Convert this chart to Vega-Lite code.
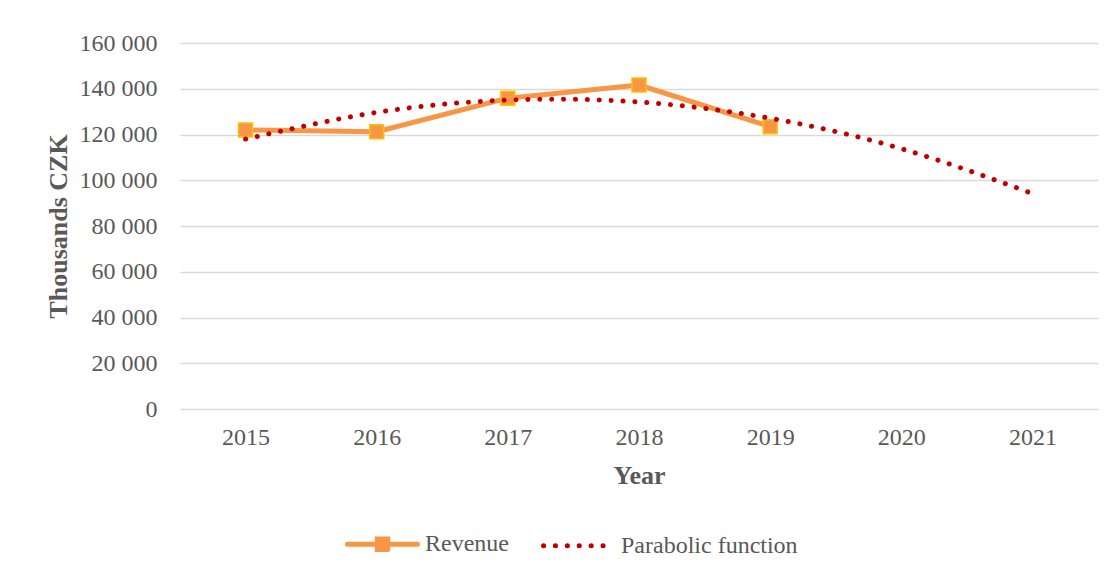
{
  "$schema": "https://vega.github.io/schema/vega-lite/v6.json",
  "width": 918,
  "height": 366,
  "autosize": {"type": "none"},
  "padding": {"left": 180, "top": 43, "right": 14, "bottom": 162},
  "background": "white",
  "config": {
    "font": "Liberation Serif",
    "view": {"stroke": null},
    "axis": {"labelFont": "Liberation Serif", "labelFontSize": 24, "labelColor": "#595959", "titleFont": "Liberation Serif", "titleFontSize": 26, "titleFontWeight": "bold", "titleColor": "#595959"}
  },
  "data": {
    "values": [
      {"year": "2015", "series": "Revenue", "value": 121970},
      {"year": "2016", "series": "Revenue", "value": 121210},
      {"year": "2017", "series": "Revenue", "value": 135870},
      {"year": "2018", "series": "Revenue", "value": 141640},
      {"year": "2019", "series": "Revenue", "value": 123410},
      {"year": "2015", "series": "Parabolic function", "value": 118000},
      {"year": "2016", "series": "Parabolic function", "value": 129650},
      {"year": "2017", "series": "Parabolic function", "value": 135050},
      {"year": "2018", "series": "Parabolic function", "value": 134200},
      {"year": "2019", "series": "Parabolic function", "value": 127100},
      {"year": "2020", "series": "Parabolic function", "value": 113780},
      {"year": "2021", "series": "Parabolic function", "value": 94200}
    ]
  },
  "encoding": {
    "x": {
      "field": "year", "type": "ordinal",
      "scale": {"type": "point", "padding": 0.5, "domain": ["2015","2016","2017","2018","2019","2020","2021"]},
      "axis": {"title": "Year", "labelAngle": 0, "domain": false, "ticks": false, "grid": false, "labelPadding": 16, "titleY": 66, "titleBaseline": "middle"}
    },
    "y": {
      "field": "value", "type": "quantitative",
      "scale": {"domain": [0, 160000]},
      "axis": {
        "title": "Thousands CZK", "values": [0,20000,40000,60000,80000,100000,120000,140000,160000],
        "labelExpr": "datum.value >= 1000 ? format(floor(datum.value/1000),'d') + ' 000' : '0'",
        "domain": false, "ticks": false, "grid": true, "gridColor": "#D9D9D9", "gridWidth": 1.5,
        "labelPadding": 23, "titleX": -122, "titleY": 183, "titleAngle": -90, "titleBaseline": "middle", "titleAlign": "center"
      }
    }
  },
  "layer": [
    {
      "transform": [{"filter": "datum.series === 'Revenue'"}],
      "mark": {"type": "line", "strokeWidth": 5, "strokeCap": "round", "strokeJoin": "round"},
      "encoding": {
        "color": {
          "field": "series", "type": "nominal",
          "scale": {"domain": ["Revenue", "Parabolic function"], "range": ["#F79646", "#C00000"]},
          "legend": {
            "orient": "none", "legendX": 165, "legendY": 463.5, "direction": "horizontal", "title": null,
            "symbolSize": 4900, "symbolType": "M-1,0H1",
            "labelFont": "Liberation Serif", "labelFontSize": 24, "labelColor": "#595959", "labelOffset": 5, "labelLimit": 400, "columnPadding": 24,
            "encode": {
              "symbols": {
                "update": {
                  "shape": {"signal": "datum.value === 'Revenue' ? 'M-1,0H-0.15M0.15,0H1M-0.15,-0.15H0.15V0.15H-0.15Z' : 'M-1,0H1'"},
                  "fill": {"signal": "datum.value === 'Revenue' ? '#F79646' : 'transparent'"},
                  "stroke": {"signal": "datum.value === 'Revenue' ? '#F79646' : '#C00000'"},
                  "strokeWidth": {"value": 5},
                  "strokeDash": {"signal": "datum.value === 'Revenue' ? [1,0] : [0.1,11.8]"},
                  "strokeCap": {"value": "round"},
                  "strokeJoin": {"value": "miter"},
                  "size": {"value": 4900},
                  "opacity": {"value": 1}
                }
              }
            }
          }
        }
      }
    },
    {
      "transform": [{"filter": "datum.series === 'Revenue'"}],
      "mark": {"type": "square", "size": 196, "fill": "#F79646", "stroke": "#FFC000", "strokeWidth": 1.5, "opacity": 1, "filled": true}
    },
    {
      "transform": [{"filter": "datum.series === 'Parabolic function'"}],
      "mark": {"type": "line", "strokeWidth": 5, "strokeCap": "round", "strokeDash": [0.1, 11.8], "interpolate": "natural"},
      "encoding": {
        "color": {"field": "series", "type": "nominal"}
      }
    }
  ]
}
